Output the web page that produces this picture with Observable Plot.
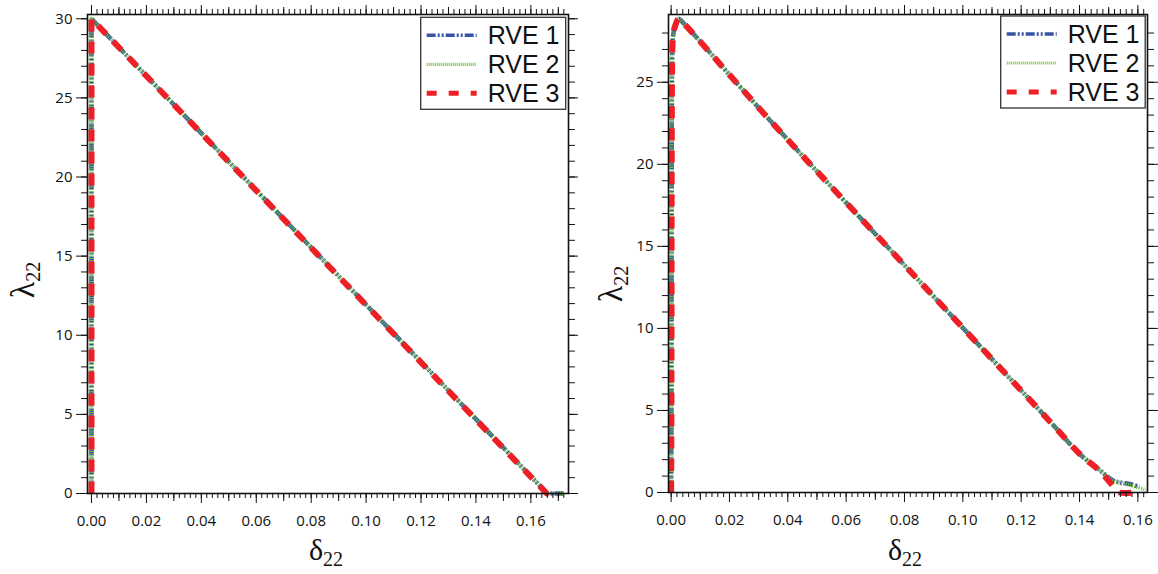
<!DOCTYPE html>
<html>
<head>
<meta charset="utf-8">
<script src="https://cdn.jsdelivr.net/npm/d3@7"></script>
<script src="https://cdn.jsdelivr.net/npm/@observablehq/plot@0.6"></script>
<style>
  html, body { margin: 0; padding: 0; background: white; }
  #wrap { position: relative; display: flex; width: 1158px; height: 574px; }
  .ylab { position: absolute; font-family: 'Liberation Serif', serif; font-size: 34px; line-height: 1;
          color: #111; white-space: nowrap; transform: translate(-50%, -50%) rotate(-90deg); }
  .ylab sub { font-size: 20px; vertical-align: -6px; }
</style>
</head>
<body>
<div id="wrap"></div>
<script>
// ---------- data (δ22, λ22) ----------
const seriesNames = ["RVE 1", "RVE 2", "RVE 3"];

// left panel
const leftRVE1 = [[0, 0], [0, 30], [0.166, 0], [0.172, 0]];
const leftRVE2 = [[0, 0], [0, 30], [0.166, 0], [0.172, 0]];
const leftRVE3 = [[0, 0], [0, 30], [0.1658, 0], [0.1685, 0]];

// right panel
const rightRVE1 = [[0, 0], [0.0001, 5], [0.0002, 20], [0.0003, 25], [0.0005, 27.4], [0.0009, 28.1],
  [0.0015, 28.5], [0.0026, 28.87], [0.004, 28.65], [0.034, 22.66], [0.085, 12.9], [0.130, 4.3],
  [0.140, 2.36], [0.147, 1.35], [0.1517, 0.72], [0.1575, 0.5], [0.1605, 0.35]];
const rightRVE2 = [[0, 0], [0.0001, 5], [0.0002, 20], [0.0003, 25], [0.0005, 27.4], [0.0009, 28.1],
  [0.0015, 28.5], [0.0026, 28.87], [0.004, 28.65], [0.034, 22.66], [0.085, 12.9], [0.130, 4.3],
  [0.140, 2.36], [0.147, 1.35], [0.1517, 0.72], [0.1575, 0.45], [0.1627, 0.15]];
const rightRVE3 = [[0, 0], [0.0001, 5], [0.0002, 20], [0.0003, 25], [0.0005, 27.4], [0.0009, 28.1],
  [0.0015, 28.5], [0.0026, 28.87], [0.004, 28.65], [0.034, 22.66], [0.085, 12.9], [0.130, 4.3],
  [0.140, 2.36], [0.147, 1.3], [0.1505, 0.6], [0.153, 0.1], [0.1538, 0], [0.159, 0]];

// ticks
const xMajor = [0, 0.02, 0.04, 0.06, 0.08, 0.10, 0.12, 0.14, 0.16];
const xMid = [0.01, 0.03, 0.05, 0.07, 0.09, 0.11, 0.13, 0.15, 0.17];
const xMinorLeft = d3.range(0, 88).map(i => +(i * 0.002).toFixed(3)).filter(v => v <= 0.1736);
const xMinorRight = d3.range(0, 82).map(i => +(i * 0.002).toFixed(3)).filter(v => v <= 0.1632);
const yMajorLeft = [0, 5, 10, 15, 20, 25, 30];
const yMajorRight = [0, 5, 10, 15, 20, 25];
const yMinorLeft = d3.range(0, 31);
const yMinorRight = d3.range(0, 29);

// ---------- styles ----------
const colors = ["#3953a4", "#72c13e", "#ee1f25"];
const widths = [4.5, 4, 6];
const dashes = ["9,2,2,2,2,2", "1,1.3", "12,10"];
const legendWidths = [3.5, 3.2, 5];
const legendDashes = ["9,2,2,2,2,2", "1,1", "10,12"];

function panel(series, opts) {
  const marks = [];
  series.forEach((s, i) => {
    marks.push(Plot.line(s, {
      x: d => d[0], y: d => d[1], stroke: colors[i], strokeWidth: widths[i],
      strokeDasharray: dashes[i], curve: opts.curve, strokeLinecap: "butt", strokeLinejoin: "round"
    }));
  });
  const noText = () => "";
  marks.push(
    Plot.axisY({ticks: opts.yMajor, tickSize: 11, tickPadding: 4, label: null, tickFormat: d => String(d)}),
    Plot.axisY({ticks: opts.yMinor, tickSize: 6, label: null, tickFormat: noText}),
    Plot.axisY({anchor: "right", ticks: opts.yMajor, tickSize: 11, label: null, tickFormat: noText}),
    Plot.axisY({anchor: "right", ticks: opts.yMinor, tickSize: 6, label: null, tickFormat: noText}),
    Plot.axisX({ticks: xMajor, tickSize: 10, tickPadding: 12, label: null, tickFormat: d3.format(".2f")}),
    Plot.axisX({ticks: xMid.filter(v => v <= opts.xDomain[1]), tickSize: 8, label: null, tickFormat: noText}),
    Plot.axisX({ticks: opts.xMinor, tickSize: 5, label: null, tickFormat: noText}),
    Plot.axisX({anchor: "top", ticks: xMajor, tickSize: 10, label: null, tickFormat: noText}),
    Plot.axisX({anchor: "top", ticks: xMid.filter(v => v <= opts.xDomain[1]), tickSize: 8, label: null, tickFormat: noText}),
    Plot.axisX({anchor: "top", ticks: opts.xMinor, tickSize: 6, label: null, tickFormat: noText}),
    Plot.frame({stroke: "#111", strokeWidth: 1.6})
  );
  const svg = Plot.plot({
    width: opts.width, height: 574,
    marginLeft: opts.ml, marginRight: opts.mr, marginTop: 14, marginBottom: opts.mb,
    x: {domain: opts.xDomain, label: null},
    y: {domain: opts.yDomain, label: null},
    style: {fontFamily: "'Open Sans', sans-serif", fontSize: "15px", color: "#111", background: "white", overflow: "visible"},
    marks
  });
  const sel = d3.select(svg);
  // legend box
  const lg = sel.append("g").attr("transform", `translate(${opts.legX},${opts.legY})`);
  lg.append("rect").attr("x", 0).attr("y", 0).attr("width", opts.legW).attr("height", 92)
    .attr("fill", "white").attr("stroke", "#333").attr("stroke-width", 1.3);
  seriesNames.forEach((name, i) => {
    const cy = 18 + i * 29;
    lg.append("line").attr("x1", 6).attr("x2", 56).attr("y1", cy).attr("y2", cy)
      .attr("stroke", colors[i]).attr("stroke-width", legendWidths[i]).attr("stroke-dasharray", legendDashes[i]);
    lg.append("text").attr("x", 67).attr("y", cy + 9).attr("text-anchor", "start").text(name)
      .attr("font-family", "'Liberation Sans', Arial, sans-serif").attr("font-size", 25).attr("fill", "#111");
  });
  // x label δ22
  const xl = sel.append("text").attr("transform", `translate(${opts.xlX},560)`)
    .attr("text-anchor", "middle").attr("font-family", "'Liberation Serif', serif").attr("fill", "#111");
  xl.append("tspan").attr("font-size", 30).text("δ");
  xl.append("tspan").attr("font-size", 20).attr("dy", 6).text("22");
  return svg;
}

const wrap = document.getElementById("wrap");
wrap.appendChild(panel([leftRVE1, leftRVE2, leftRVE3], {
  width: 578, ml: 87, mr: 10, mb: 81,
  xDomain: [-0.00145, 0.1737], yDomain: [0, 30.27],
  yMajor: yMajorLeft, yMinor: yMinorLeft, xMinor: xMinorLeft,
  curve: "linear",
  legX: 420.7, legY: 17.3, legW: 145,
  xlX: 326
}));
wrap.appendChild(panel([rightRVE1, rightRVE2, rightRVE3], {
  width: 580, ml: 90, mr: 11, mb: 82,
  xDomain: [-0.0009, 0.1633], yDomain: [0, 29.13],
  yMajor: yMajorRight, yMinor: yMinorRight, xMinor: xMinorRight,
  curve: "catmull-rom",
  legX: 422.7, legY: 16, legW: 144.5,
  xlX: 327
}));

// rotated y-axis labels λ22
[[24, 280], [612, 284]].forEach(([cx, cy]) => {
  const d = document.createElement("div");
  d.className = "ylab";
  d.style.left = cx + "px";
  d.style.top = cy + "px";
  d.innerHTML = "λ<sub>22</sub>";
  wrap.appendChild(d);
});
</script>
</body>
</html>
